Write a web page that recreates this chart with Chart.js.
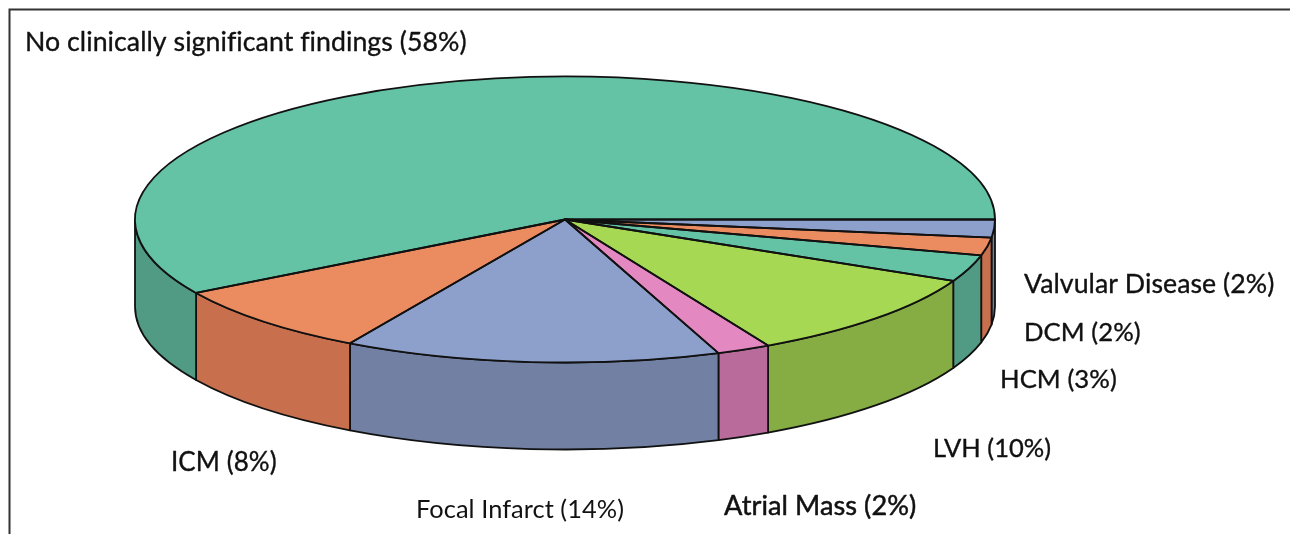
<!DOCTYPE html>
<html>
<head>
<meta charset="utf-8">
<title>Findings</title>
<script src="https://cdn.jsdelivr.net/npm/chart.js@4"></script>
<style>
  html, body { margin: 0; padding: 0; background: #fff; }
  canvas { display: block; }
</style>
</head>
<body>
<canvas id="pie" width="1290" height="534"></canvas>
<script>
// Slices, clockwise from 3 o'clock
const categories = ["Valvular Disease", "DCM", "HCM", "LVH", "Atrial Mass", "Focal Infarct", "ICM", "No clinically significant findings"];
const percents = [2, 2, 3, 10, 2, 14, 8, 58];
const topColors = ["#8DA0CB", "#EA8B60", "#64C2A5", "#A6D854", "#E488C2", "#8DA0CB", "#EA8B60", "#64C2A5"];
const sideColors = ["#7180A3", "#C8704E", "#519A84", "#85AD43", "#B96C9C", "#7180A3", "#C8704E", "#519A84"];

// Where each text goes: left edge, baseline, font size, extra weight
const labelSpots = [
  [1024, 293, 26.7, 0.35], [1024, 341, 25.7, 0.35], [1000, 388, 25.7, 0.35], [933, 457, 25.5, 0.35],
  [724, 515, 27.2, 0.5], [416, 518, 25.4, 0], [171, 471, 26, 0.35], [25, 51, 26.7, 0.35]
];

const RX = 430;     // ellipse half width
const RY = 143;     // ellipse half height
const DEPTH = 87;   // thickness of the disc
const LINE = "#111";

// Wedge path on the flattened disc
function wedgePath(ctx, x, y, start, end) {
  ctx.beginPath();
  ctx.moveTo(x, y);
  ctx.ellipse(x, y, RX, RY, 0, start, end);
  ctx.closePath();
}

const tiltPlugin = {
  id: "tilt",
  beforeDraw(chart) {
    // Frame runs along the top and down the left side only
    const ctx = chart.ctx;
    ctx.save();
    ctx.strokeStyle = "#333";
    ctx.lineWidth = 2;
    ctx.beginPath();
    ctx.moveTo(9.5, 534);
    ctx.lineTo(9.5, 9.5);
    ctx.lineTo(1290, 9.5);
    ctx.stroke();
    ctx.restore();
  },
  beforeDatasetsDraw(chart) {
    const ctx = chart.ctx;
    const arcs = chart.getDatasetMeta(0).data;

    // Side walls, only the front half of the disc shows
    ctx.save();
    ctx.strokeStyle = LINE;
    ctx.lineWidth = 1.8;
    ctx.lineJoin = "round";
    arcs.forEach((arc, i) => {
      const start = Math.max(arc.startAngle, 0);
      const end = Math.min(arc.endAngle, Math.PI);
      if (end <= start) return;
      ctx.beginPath();
      ctx.ellipse(arc.x, arc.y, RX, RY, 0, start, end);
      ctx.ellipse(arc.x, arc.y + DEPTH, RX, RY, 0, end, start, true);
      ctx.closePath();
      ctx.fillStyle = sideColors[i];
      ctx.fill();
      ctx.stroke();
    });
    ctx.restore();

    // Squash the round pie into an ellipse for the library's own arcs
    const first = arcs[0];
    ctx.save();
    ctx.translate(first.x, first.y);
    ctx.scale(RX / first.outerRadius, RY / first.outerRadius);
    ctx.translate(-first.x, -first.y);
  },
  afterDatasetsDraw(chart) {
    const ctx = chart.ctx;
    const arcs = chart.getDatasetMeta(0).data;
    ctx.restore();

    // Outlines after the transform is gone so the line width stays even
    ctx.save();
    ctx.strokeStyle = LINE;
    ctx.lineWidth = 1.8;
    ctx.lineJoin = "round";
    arcs.forEach((arc) => {
      wedgePath(ctx, arc.x, arc.y, arc.startAngle, arc.endAngle);
      ctx.stroke();
    });

    // Labels, the small spacing keeps "fi" and "fl" as separate letters
    ctx.fillStyle = "#111";
    ctx.strokeStyle = "#111";
    ctx.textBaseline = "alphabetic";
    ctx.letterSpacing = "0.05px";
    categories.forEach((name, i) => {
      const [x, y, size, weight] = labelSpots[i];
      const text = name + " (" + percents[i] + "%)";
      ctx.font = size + "px Lato";
      ctx.fillText(text, x, y);
      if (weight > 0) {
        ctx.lineWidth = weight;
        ctx.strokeText(text, x, y);
      }
    });
    ctx.restore();
  }
};

new Chart(document.getElementById("pie"), {
  type: "pie",
  data: {
    labels: categories,
    datasets: [{
      data: percents,
      backgroundColor: topColors,
      borderWidth: 0,
      clip: false
    }]
  },
  options: {
    responsive: false,
    animation: false,
    rotation: 90,
    layout: { padding: { right: 160, bottom: 95 } },
    plugins: {
      legend: { display: false },
      tooltip: { enabled: false }
    }
  },
  plugins: [tiltPlugin]
});
</script>
</body>
</html>
